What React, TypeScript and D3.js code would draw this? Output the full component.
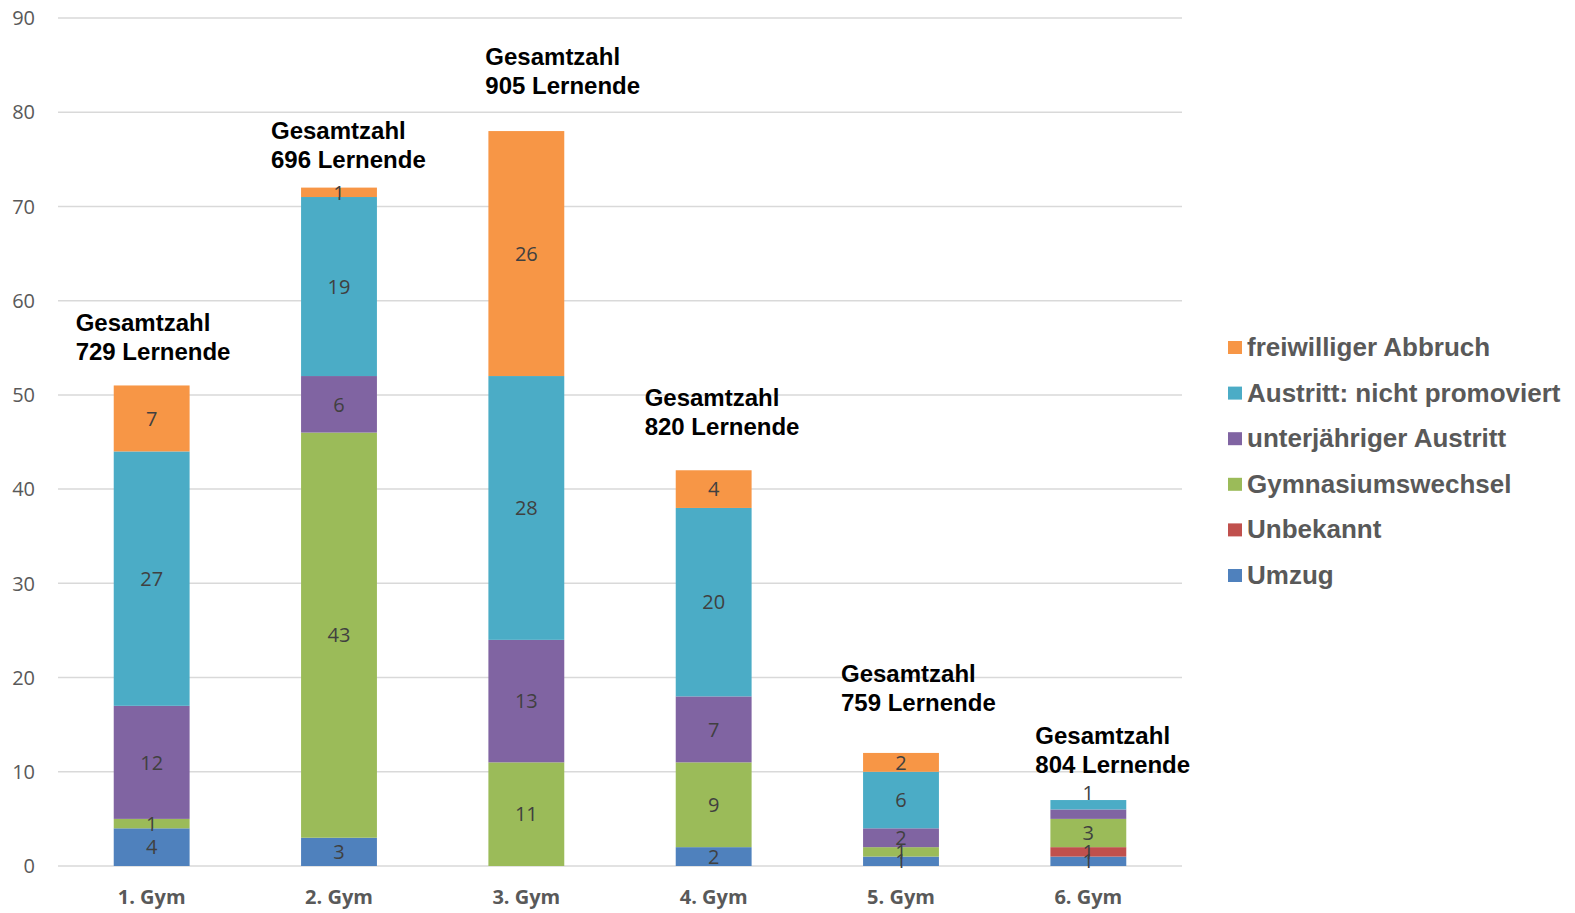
import React, { useCallback, useEffect, useRef } from "react";
import * as d3 from "d3";

// categories along the x axis
const gyms = ["1. Gym", "2. Gym", "3. Gym", "4. Gym", "5. Gym", "6. Gym"];

// series, bottom to top of the stack
const seriesNames = [
  "Umzug",
  "Unbekannt",
  "Gymnasiumswechsel",
  "unterjähriger Austritt",
  "Austritt: nicht promoviert",
  "freiwilliger Abbruch",
];

const umzug = [4, 3, 0, 2, 1, 1];
const unbekannt = [0, 0, 0, 0, 0, 1];
const gymnasiumswechsel = [1, 43, 11, 9, 1, 3];
const unterjaehrig = [12, 6, 13, 7, 2, 1];
const nichtPromoviert = [27, 19, 28, 20, 6, 1];
const freiwillig = [7, 1, 26, 4, 2, 0];

// total students per school (annotation text)
const totalStudents = [729, 696, 905, 820, 759, 804];

const yTicks = [0, 10, 20, 30, 40, 50, 60, 70, 80, 90];

const colors = ["#4F81BD", "#C0504D", "#9BBB59", "#8064A2", "#4BACC6", "#F79646"];

// hand placed annotation boxes: offset from bar center / bar top in px
const annotationOffsets = [
  { dx: -76, dy: -54 },
  { dx: -68, dy: -49 },
  { dx: -41, dy: -66 },
  { dx: -69, dy: -64 },
  { dx: -60, dy: -71 },
  { dx: -53, dy: -56 },
];

const W = 1575;
const H = 913;

export const StackedChart = () => {
  /**
   * reference to the svg we render into
   */
  const svgRef = useRef<SVGSVGElement>(null);

  const renderChart = useCallback(() => {
    d3.select(svgRef.current).selectChildren().remove();

    const svg = d3.select(svgRef.current);

    const x = d3
      .scaleBand()
      .domain(gyms)
      .range([58, 1182])
      .paddingInner(0.595)
      .paddingOuter(0.2975);
    const y = d3.scaleLinear().domain([0, 90]).range([866, 18]);

    // build the table d3.stack wants
    const table = gyms.map((g, i) => ({
      gym: g,
      [seriesNames[0]]: umzug[i],
      [seriesNames[1]]: unbekannt[i],
      [seriesNames[2]]: gymnasiumswechsel[i],
      [seriesNames[3]]: unterjaehrig[i],
      [seriesNames[4]]: nichtPromoviert[i],
      [seriesNames[5]]: freiwillig[i],
    }));
    const stacked = d3.stack<any>().keys(seriesNames)(table);

    // gridlines
    svg
      .append("g")
      .selectAll("line")
      .data(yTicks)
      .enter()
      .append("line")
      .attr("x1", 58)
      .attr("x2", 1182)
      .attr("y1", (d) => y(d))
      .attr("y2", (d) => y(d))
      .attr("stroke", "#d9d9d9")
      .attr("stroke-width", 1.5);

    // y tick labels
    svg
      .append("g")
      .selectAll("text")
      .data(yTicks)
      .enter()
      .append("text")
      .attr("x", 35)
      .attr("y", (d) => y(d))
      .attr("dy", "0.36em")
      .attr("text-anchor", "end")
      .attr("font-family", "'Open Sans', sans-serif")
      .attr("font-size", 20)
      .attr("fill", "#595959")
      .text((d) => d);

    // x tick labels
    svg
      .append("g")
      .selectAll("text")
      .data(gyms)
      .enter()
      .append("text")
      .attr("x", (d) => x(d)! + x.bandwidth() / 2)
      .attr("y", 904)
      .attr("text-anchor", "middle")
      .attr("font-family", "'Open Sans', sans-serif")
      .attr("font-weight", "bold")
      .attr("font-size", 20)
      .attr("fill", "#595959")
      .text((d) => d);

    // the stacked segments
    const layers = svg
      .append("g")
      .selectAll("g")
      .data(stacked)
      .enter()
      .append("g")
      .attr("fill", (d, i) => colors[i]);

    layers
      .selectAll("rect")
      .data((d) => d.filter((s) => s[1] - s[0] > 0))
      .enter()
      .append("rect")
      .attr("x", (d) => x(d.data.gym)!)
      .attr("width", x.bandwidth())
      .attr("y", (d) => y(d[1]))
      .attr("height", (d) => y(d[0]) - y(d[1]));

    // value labels
    const labels: { gym: string; v: number; cy: number }[] = [];
    stacked.forEach((layer) => {
      layer.forEach((s) => {
        const v = s[1] - s[0];
        if (v <= 0) return;
        let cy = y((s[0] + s[1]) / 2);
        // excel dropped / moved the crowded labels on top of the last bar
        if (s.data.gym === "6. Gym" && layer.key === "unterjähriger Austritt") return;
        if (s.data.gym === "6. Gym" && layer.key === "Austritt: nicht promoviert") cy -= 12;
        labels.push({ gym: s.data.gym, v, cy });
      });
    });

    svg
      .append("g")
      .selectAll("text")
      .data(labels)
      .enter()
      .append("text")
      .attr("x", (d) => x(d.gym)! + x.bandwidth() / 2)
      .attr("y", (d) => d.cy)
      .attr("dy", "0.36em")
      .attr("text-anchor", "middle")
      .attr("font-family", "'Open Sans', sans-serif")
      .attr("font-size", 20)
      .attr("fill", "#404040")
      .text((d) => d.v);

    // "Gesamtzahl" annotations
    const totals = gyms.map((g, i) =>
      seriesNames.reduce((acc, _k, j) => acc + (stacked[j][i][1] - stacked[j][i][0]), 0)
    );
    const ann = svg
      .append("g")
      .selectAll("text")
      .data(gyms)
      .enter()
      .append("text")
      .attr("font-family", "'Liberation Sans', Arial, sans-serif")
      .attr("font-weight", "bold")
      .attr("font-size", 24)
      .attr("fill", "#000");
    ann
      .append("tspan")
      .attr("x", (d, i) => x(d)! + x.bandwidth() / 2 + annotationOffsets[i].dx)
      .attr("y", (d, i) => y(totals[i]) + annotationOffsets[i].dy)
      .text("Gesamtzahl");
    ann
      .append("tspan")
      .attr("x", (d, i) => x(d)! + x.bandwidth() / 2 + annotationOffsets[i].dx)
      .attr("y", (d, i) => y(totals[i]) + annotationOffsets[i].dy + 29)
      .text((d, i) => `${totalStudents[i]} Lernende`);

    // legend, top entry is the top of the stack
    const legendItems = seriesNames
      .map((name, i) => ({ name, color: colors[i] }))
      .reverse();
    const legend = svg
      .append("g")
      .selectAll("g")
      .data(legendItems)
      .enter()
      .append("g")
      .attr("transform", (d, i) => `translate(1228, ${356 + i * 45.6})`);
    legend
      .append("rect")
      .attr("x", 0)
      .attr("y", -15)
      .attr("width", 14)
      .attr("height", 13)
      .attr("fill", (d) => d.color);
    legend
      .append("text")
      .attr("x", 19)
      .attr("y", 0)
      .attr("font-family", "'Liberation Sans', Arial, sans-serif")
      .attr("font-weight", "bold")
      .attr("font-size", 26)
      .attr("fill", "#595959")
      .text((d) => d.name);

    return svg;
  }, []);

  useEffect(() => {
    renderChart();
  }, [renderChart]);

  return (
    <svg
      ref={svgRef}
      width={W}
      height={H}
      style={{ position: "absolute", left: 0, top: 0, background: "#fff" }}
    ></svg>
  );
};

export default function App() {
  return <StackedChart />;
}
